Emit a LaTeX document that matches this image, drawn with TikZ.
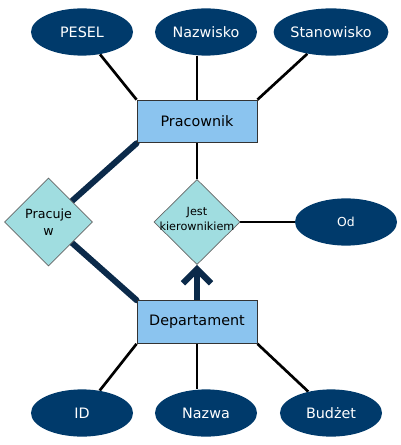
\documentclass[tikz,border=0pt]{standalone}
\usepackage{fontspec}
\setmainfont{DejaVu Sans}
\usetikzlibrary{shapes.geometric,arrows.meta,backgrounds}
\definecolor{attrblue}{HTML}{003A6B}
\definecolor{entblue}{HTML}{8BC4EF}
\definecolor{relcyan}{HTML}{A0DDE0}
\definecolor{linknavy}{HTML}{0B2A4A}
\tikzset{
  attr/.style={ellipse,fill=attrblue,text=white,minimum width=2.55cm,
    minimum height=1.18cm,inner sep=0pt,font=\fontsize{10.2}{12}\selectfont},
  entity/.style={rectangle,draw=black!80,fill=entblue,line width=0.6pt,
    minimum width=3cm,minimum height=1.07cm,font=\fontsize{10.2}{12}\selectfont},
  relation/.style={diamond,draw=black!60,fill=relcyan,line width=0.5pt,
    inner sep=0pt,minimum width=2.2cm,minimum height=2.2cm},
  attrline/.style={line width=1.9pt},
  partline/.style={line width=4.3pt,draw=linknavy,line cap=round},
}
\begin{document}
\begin{tikzpicture}[x=0.025cm,y=-0.025cm]
\useasboundingbox (0,0) rectangle (400,445);
% entities
\node[entity] (prac) at (197,121.5) {Pracownik};
\node[entity] (dept) at (197,322) {Departament};
% attributes
\node[attr] (pesel) at (82,32) {PESEL};
\node[attr] (nazw) at (206,32) {Nazwisko};
\node[attr] (stan) at (331,32) {Stanowisko};
\node[attr] (id) at (82,413) {ID};
\node[attr] (nazwa) at (206,413) {Nazwa};
\node[attr] (budz) at (331,413) {Budżet};
\node[attr,font=\fontsize{8.8}{11}\selectfont] (od) at (346,222) {Od};
% relationships
\node[relation,label={[align=center,font=\fontsize{9}{12.5}\selectfont]center:Pracuje\\w}] (pracw) at (48.5,222) {};
\node[relation,minimum width=2.15cm,minimum height=2.13cm,
  label={[align=center,font=\fontsize{8}{11}\selectfont,yshift=2pt]center:Jest\\kierownikiem}] (kier) at (197,222) {};
\begin{scope}[on background layer]
\draw[attrline] (pesel) -- (prac.north west);
\draw[attrline] (nazw.south -| prac.north) -- (prac.north);
\draw[attrline] (stan) -- (prac.north east);
\draw[attrline] (id) -- (dept.south west);
\draw[attrline] (nazwa.north -| dept.south) -- (dept.south);
\draw[attrline] (budz) -- (dept.south east);
\draw[attrline] (prac.south) -- (kier.north);
\draw[attrline] (kier.east) -- (od);
\draw[partline] (prac.south west) -- (pracw);
\draw[partline] (pracw) -- (dept.north west);
\draw[partline,-{Straight Barb[length=10pt,width=20pt]}] (dept.north) -- (kier.south);
\end{scope}
\end{tikzpicture}
\end{document}
